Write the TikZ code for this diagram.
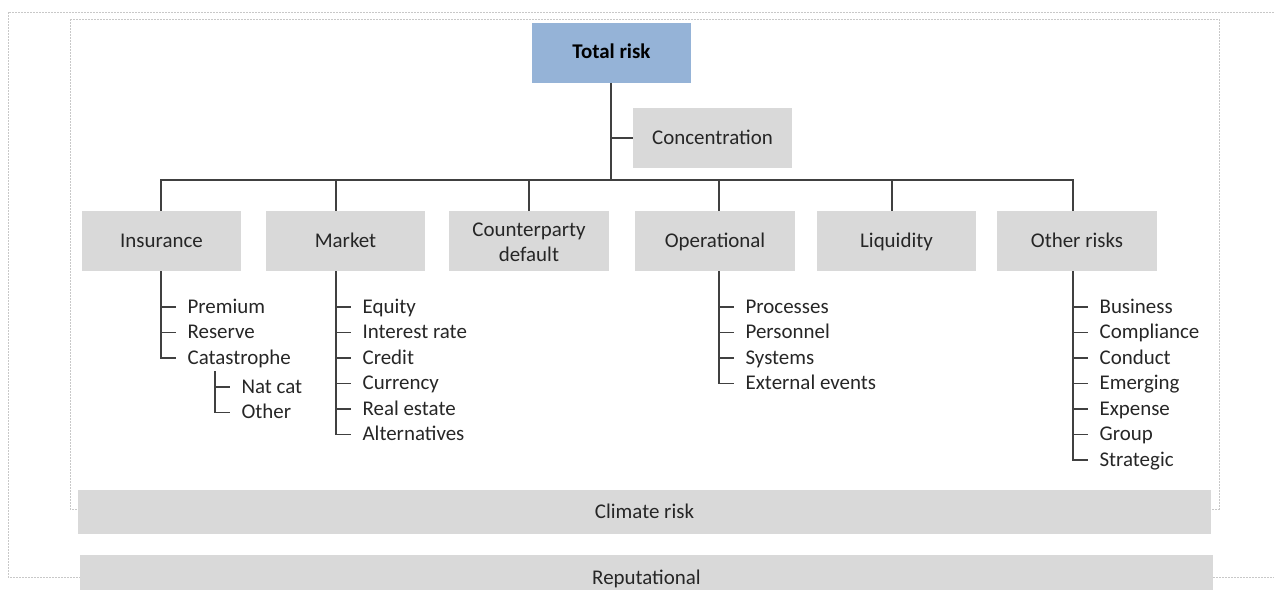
\documentclass[tikz,border=0pt]{standalone}
\usepackage{fontspec}
\setmainfont{Carlito}
\usepackage{tikz}
\usetikzlibrary{positioning}
\definecolor{riskgray}{HTML}{D9D9D9}
\definecolor{riskblue}{HTML}{95B3D7}
\definecolor{stemgray}{HTML}{404040}
\definecolor{framegray}{HTML}{C8C8C8}
\definecolor{inkgray}{HTML}{262626}
\tikzset{%
  every risk/.style={
    rectangle,
    fill=riskgray,
    minimum width=119.5pt,
    minimum height=45pt,
    inner sep=0pt,
    align=center,
    text height=11pt,
    text depth=2pt,
    text=inkgray,
    font=\fontsize{15.7}{18.8}\selectfont
  },
  risk top/.style={
    every risk,
    fill=riskblue,
    text=black,
    font=\bfseries\fontsize{15.7}{18.8}\selectfont
  },
  risk band/.style={
    every risk,
    minimum width=850pt,
    minimum height=33pt
  },
  sub risk/.style={
    anchor=west,
    inner xsep=8.5pt,
    inner ysep=0pt,
    text height=11pt,
    text depth=2pt,
    text=inkgray,
    font=\fontsize{15.7}{18.8}\selectfont
  },
  stem/.style={
    draw=stemgray,
    line width=1.1pt
  },
  frame/.style={
    draw=framegray,
    line width=0.75pt,
    dash pattern=on 1.5pt off 0.75pt
  },
}

\begin{document}
\begin{tikzpicture}[x=0.75pt, y=-0.75pt]
\useasboundingbox (0,0) rectangle (1274,589);
\draw[frame] (8,12) rectangle (1300,577);
\draw[frame] (70,19) rectangle (1219,509);

\node[risk top] (total) at (611.5,52.5) {Total risk};
\node[every risk] (conc) at (712.5,138) {Concentration};
\coordinate (hub) at (611,180);
\draw[stem] (total.south -| hub) -- (hub);
\draw[stem] (conc.west -| hub) -- (conc.west);

\foreach \name/\cx/\bx/\txt in {ins/161.5/161/Insurance, mkt/345.5/336/Market,
    ops/715/719/Operational, liq/896.5/892/Liquidity, oth/1077/1073/Other risks}{
  \node[every risk] (\name) at (\cx,241) {\txt};
  \coordinate (bus_\name) at (\bx,180);
}
\node[every risk, text height=33pt] (cpd) at (529,241) {Counterparty\\default};
\coordinate (bus_cpd) at (529,180);
\draw[stem] (bus_ins |- ins.north) -- (bus_ins) -- (bus_oth) -- (bus_oth |- oth.north);
\foreach \name in {mkt,cpd,ops,liq}
  \draw[stem] (bus_\name) -- (bus_\name |- \name.north);

% insurance
\foreach \txt [count=\i] in {Premium,Reserve,Catastrophe}
  \node[sub risk] (ins_\i) at (176,281.5+25.5*\i) {\txt};
\draw[stem] (bus_ins |- ins.south) |- (ins_3.west);
\foreach \i in {1,2}
  \draw[stem] (bus_ins |- ins_\i.west) -- (ins_\i.west);

\coordinate (cat_stem) at (215,371);
\foreach \txt [count=\i] in {Nat cat,Other}
  \node[sub risk] (cat_\i) at (230,361.5+25.5*\i) {\txt};
\draw[stem] (cat_stem) |- (cat_2.west);
\draw[stem] (cat_stem |- cat_1.west) -- (cat_1.west);

% market
\foreach \txt [count=\i] in {Equity,Interest rate,Credit,Currency,Real estate,Alternatives}
  \node[sub risk] (mkt_\i) at (351,281.5+25.5*\i) {\txt};
\draw[stem] (bus_mkt |- mkt.south) |- (mkt_6.west);
\foreach \i in {1,...,5}
  \draw[stem] (bus_mkt |- mkt_\i.west) -- (mkt_\i.west);

% operational
\foreach \txt [count=\i] in {Processes,Personnel,Systems,External events}
  \node[sub risk] (ops_\i) at (734,281.5+25.5*\i) {\txt};
\draw[stem] (bus_ops |- ops.south) |- (ops_4.west);
\foreach \i in {1,2,3}
  \draw[stem] (bus_ops |- ops_\i.west) -- (ops_\i.west);

% other risks
\foreach \txt [count=\i] in {Business,Compliance,Conduct,Emerging,Expense,Group,Strategic}
  \node[sub risk] (oth_\i) at (1088,281.5+25.5*\i) {\txt};
\draw[stem] (bus_oth |- oth.south) |- (oth_7.west);
\foreach \i in {1,...,6}
  \draw[stem] (bus_oth |- oth_\i.west) -- (oth_\i.west);

\node[risk band] (climate) at (644.5,512) {Climate risk};
\node[risk band, minimum height=34.5pt] (reput) at (646.5,578) {Reputational};
\end{tikzpicture}
\end{document}
